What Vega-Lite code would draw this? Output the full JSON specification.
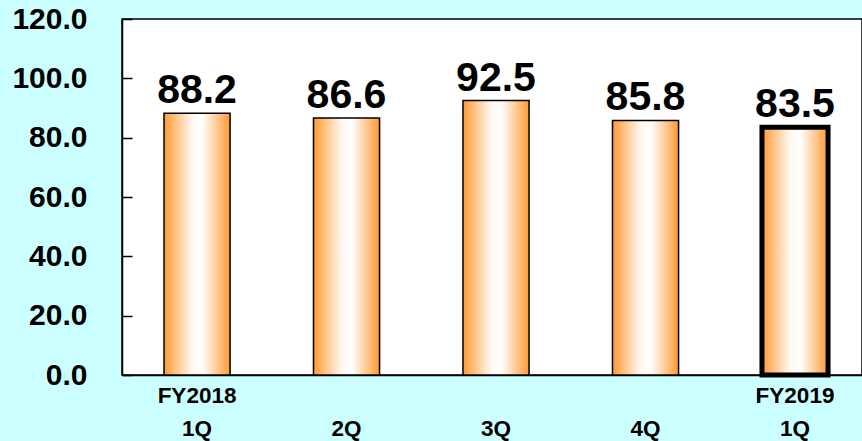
{
  "$schema": "https://vega.github.io/schema/vega-lite/v6.json",
  "width": 740,
  "height": 356,
  "autosize": "none",
  "padding": {"left": 122, "top": 19, "right": 0, "bottom": 66},
  "background": "#CCFFFF",
  "config": {
    "view": {"fill": "white", "stroke": "black", "strokeWidth": 1.5},
    "font": "Liberation Sans"
  },
  "data": {
    "values": [
      {"period": "FY2018 1Q", "value": 88.2},
      {"period": "2Q", "value": 86.6},
      {"period": "3Q", "value": 92.5},
      {"period": "4Q", "value": 85.8},
      {"period": "FY2019 1Q", "value": 83.5}
    ]
  },
  "encoding": {
    "x": {
      "field": "period",
      "type": "nominal",
      "sort": null,
      "scale": {"paddingInner": 0.558, "paddingOuter": 0.254, "align": 0.553},
      "axis": {
        "title": null,
        "labelAngle": 0,
        "ticks": false,
        "domainColor": "black",
        "domainWidth": 1.5,
        "labelColor": "black",
        "labelFontSize": 22.5,
        "labelFontWeight": "bold",
        "labelLineHeight": 33,
        "labelPadding": 9,
        "labelExpr": "length(split(datum.value, ' ')) > 1 ? split(datum.value, ' ') : ['', datum.value]"
      }
    },
    "y": {
      "field": "value",
      "type": "quantitative",
      "scale": {"domain": [0, 120], "nice": false},
      "axis": {
        "title": null,
        "values": [0, 20, 40, 60, 80, 100, 120],
        "format": ".1f",
        "grid": false,
        "domainColor": "black",
        "domainWidth": 1.5,
        "tickColor": "black",
        "tickWidth": 1.5,
        "tickSize": -10,
        "labelPadding": 45,
        "labelColor": "black",
        "labelFontSize": 30,
        "labelFontWeight": "bold"
      }
    }
  },
  "layer": [
    {
      "mark": {
        "type": "bar",
        "stroke": "black",
        "fill": {
          "gradient": "linear",
          "x1": 0, "x2": 1, "y1": 0, "y2": 0,
          "stops": [
            {"offset": 0, "color": "#FF9933"},
            {"offset": 0.42, "color": "#FFF8F0"},
            {"offset": 0.58, "color": "#FFFFFF"},
            {"offset": 1, "color": "#FF9933"}
          ]
        }
      },
      "encoding": {
        "strokeWidth": {
          "condition": {"test": "datum.period === 'FY2019 1Q'", "value": 5},
          "value": 1.5
        }
      }
    },
    {
      "mark": {
        "type": "text",
        "baseline": "alphabetic",
        "dy": -10,
        "fontSize": 41,
        "fontWeight": "bold",
        "color": "black"
      },
      "encoding": {
        "text": {"field": "value", "type": "quantitative", "format": ".1f"}
      }
    }
  ]
}
